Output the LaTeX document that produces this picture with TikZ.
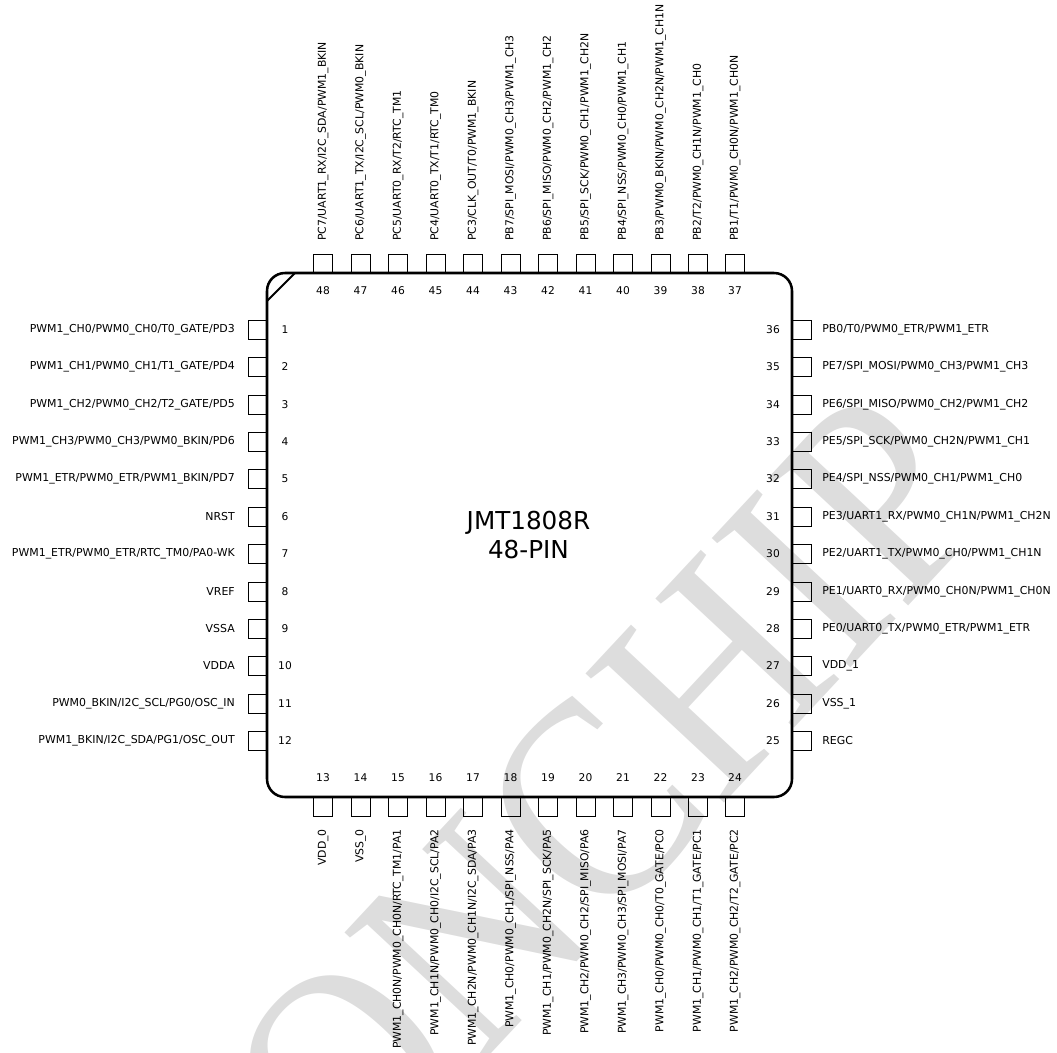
\documentclass[tikz,border=0pt]{standalone}
\usepackage{fontspec}
\setmainfont{DejaVu Sans}
\newfontfamily\markfont{Liberation Serif}
\definecolor{markgray}{RGB}{221,221,221}
\tikzset{
	pinbox/.style={draw, line width=0.75pt, minimum size=14.25pt, inner sep=0pt},
	pinnum/.style={inner sep=0pt, font=\fontsize{8}{10}\selectfont},
	leftlab/.style={inner sep=0pt, anchor=east, font=\fontsize{8.2}{10}\selectfont},
	rightlab/.style={inner sep=0pt, anchor=west, font=\fontsize{8.2}{10}\selectfont},
	toplab/.style={inner sep=0pt, anchor=west, rotate=90, font=\fontsize{8.15}{10}\selectfont},
	botlab/.style={inner sep=0pt, anchor=east, rotate=90, font=\fontsize{8.15}{10}\selectfont},
	chipbox/.style={draw, line width=1.9pt, rounded corners=13.5pt, minimum width=393.75pt, minimum height=393pt, inner sep=0pt},
}
\begin{document}
\begin{tikzpicture}[x=0.75pt, y=-0.75pt]
	\useasboundingbox (0,0) rectangle (1057,1053);
	\clip (0,0) rectangle (1057,1053);
	\node[text=markgray, rotate=47, xscale=0.88, inner sep=0pt, font=\markfont\fontsize{217}{217}\selectfont] (mark) at (607,791) {ONCHIP};

	\node[pinbox] (pin1) at (257.5,329.5) {}; \node[pinnum] (num1) at (285,329.5) {1}; \node[leftlab] (lab1) at (235,329.5) {PWM1\_CH0/PWM0\_CH0/T0\_GATE/PD3};
	\node[pinbox] (pin2) at (257.5,367) {}; \node[pinnum] (num2) at (285,367) {2}; \node[leftlab] (lab2) at (235,367) {PWM1\_CH1/PWM0\_CH1/T1\_GATE/PD4};
	\node[pinbox] (pin3) at (257.5,404.5) {}; \node[pinnum] (num3) at (285,404.5) {3}; \node[leftlab] (lab3) at (235,404.5) {PWM1\_CH2/PWM0\_CH2/T2\_GATE/PD5};
	\node[pinbox] (pin4) at (257.5,442) {}; \node[pinnum] (num4) at (285,442) {4}; \node[leftlab] (lab4) at (235,442) {PWM1\_CH3/PWM0\_CH3/PWM0\_BKIN/PD6};
	\node[pinbox] (pin5) at (257.5,479) {}; \node[pinnum] (num5) at (285,479) {5}; \node[leftlab] (lab5) at (235,479) {PWM1\_ETR/PWM0\_ETR/PWM1\_BKIN/PD7};
	\node[pinbox] (pin6) at (257.5,516.5) {}; \node[pinnum] (num6) at (285,516.5) {6}; \node[leftlab] (lab6) at (235,516.5) {NRST};
	\node[pinbox] (pin7) at (257.5,554) {}; \node[pinnum] (num7) at (285,554) {7}; \node[leftlab] (lab7) at (235,554) {PWM1\_ETR/PWM0\_ETR/RTC\_TM0/PA0-WK};
	\node[pinbox] (pin8) at (257.5,591.5) {}; \node[pinnum] (num8) at (285,591.5) {8}; \node[leftlab] (lab8) at (235,591.5) {VREF};
	\node[pinbox] (pin9) at (257.5,629) {}; \node[pinnum] (num9) at (285,629) {9}; \node[leftlab] (lab9) at (235,629) {VSSA};
	\node[pinbox] (pin10) at (257.5,666) {}; \node[pinnum] (num10) at (285,666) {10}; \node[leftlab] (lab10) at (235,666) {VDDA};
	\node[pinbox] (pin11) at (257.5,703.5) {}; \node[pinnum] (num11) at (285,703.5) {11}; \node[leftlab] (lab11) at (235,703.5) {PWM0\_BKIN/I2C\_SCL/PG0/OSC\_IN};
	\node[pinbox] (pin12) at (257.5,741) {}; \node[pinnum] (num12) at (285,741) {12}; \node[leftlab] (lab12) at (235,741) {PWM1\_BKIN/I2C\_SDA/PG1/OSC\_OUT};

	\node[pinbox] (pin13) at (323,806.5) {}; \node[pinnum] (num13) at (323,778) {13}; \node[botlab] (lab13) at (323,829) {VDD\_0};
	\node[pinbox] (pin14) at (360.5,806.5) {}; \node[pinnum] (num14) at (360.5,778) {14}; \node[botlab] (lab14) at (360.5,829) {VSS\_0};
	\node[pinbox] (pin15) at (398,806.5) {}; \node[pinnum] (num15) at (398,778) {15}; \node[botlab] (lab15) at (398,829) {PWM1\_CH0N/PWM0\_CH0N/RTC\_TM1/PA1};
	\node[pinbox] (pin16) at (435.5,806.5) {}; \node[pinnum] (num16) at (435.5,778) {16}; \node[botlab] (lab16) at (435.5,829) {PWM1\_CH1N/PWM0\_CH0/I2C\_SCL/PA2};
	\node[pinbox] (pin17) at (473,806.5) {}; \node[pinnum] (num17) at (473,778) {17}; \node[botlab] (lab17) at (473,829) {PWM1\_CH2N/PWM0\_CH1N/I2C\_SDA/PA3};
	\node[pinbox] (pin18) at (510.5,806.5) {}; \node[pinnum] (num18) at (510.5,778) {18}; \node[botlab] (lab18) at (510.5,829) {PWM1\_CH0/PWM0\_CH1/SPI\_NSS/PA4};
	\node[pinbox] (pin19) at (548,806.5) {}; \node[pinnum] (num19) at (548,778) {19}; \node[botlab] (lab19) at (548,829) {PWM1\_CH1/PWM0\_CH2N/SPI\_SCK/PA5};
	\node[pinbox] (pin20) at (585.5,806.5) {}; \node[pinnum] (num20) at (585.5,778) {20}; \node[botlab] (lab20) at (585.5,829) {PWM1\_CH2/PWM0\_CH2/SPI\_MISO/PA6};
	\node[pinbox] (pin21) at (623,806.5) {}; \node[pinnum] (num21) at (623,778) {21}; \node[botlab] (lab21) at (623,829) {PWM1\_CH3/PWM0\_CH3/SPI\_MOSI/PA7};
	\node[pinbox] (pin22) at (660.5,806.5) {}; \node[pinnum] (num22) at (660.5,778) {22}; \node[botlab] (lab22) at (660.5,829) {PWM1\_CH0/PWM0\_CH0/T0\_GATE/PC0};
	\node[pinbox] (pin23) at (698,806.5) {}; \node[pinnum] (num23) at (698,778) {23}; \node[botlab] (lab23) at (698,829) {PWM1\_CH1/PWM0\_CH1/T1\_GATE/PC1};
	\node[pinbox] (pin24) at (735,806.5) {}; \node[pinnum] (num24) at (735,778) {24}; \node[botlab] (lab24) at (735,829) {PWM1\_CH2/PWM0\_CH2/T2\_GATE/PC2};

	\node[pinbox] (pin25) at (801.5,741) {}; \node[pinnum] (num25) at (773,741) {25}; \node[rightlab] (lab25) at (822,741) {REGC};
	\node[pinbox] (pin26) at (801.5,703.5) {}; \node[pinnum] (num26) at (773,703.5) {26}; \node[rightlab] (lab26) at (822,703.5) {VSS\_1};
	\node[pinbox] (pin27) at (801.5,666) {}; \node[pinnum] (num27) at (773,666) {27}; \node[rightlab] (lab27) at (822,666) {VDD\_1};
	\node[pinbox] (pin28) at (801.5,629) {}; \node[pinnum] (num28) at (773,629) {28}; \node[rightlab] (lab28) at (822,629) {PE0/UART0\_TX/PWM0\_ETR/PWM1\_ETR};
	\node[pinbox] (pin29) at (801.5,591.5) {}; \node[pinnum] (num29) at (773,591.5) {29}; \node[rightlab] (lab29) at (822,591.5) {PE1/UART0\_RX/PWM0\_CH0N/PWM1\_CH0N};
	\node[pinbox] (pin30) at (801.5,554) {}; \node[pinnum] (num30) at (773,554) {30}; \node[rightlab] (lab30) at (822,554) {PE2/UART1\_TX/PWM0\_CH0/PWM1\_CH1N};
	\node[pinbox] (pin31) at (801.5,516.5) {}; \node[pinnum] (num31) at (773,516.5) {31}; \node[rightlab] (lab31) at (822,516.5) {PE3/UART1\_RX/PWM0\_CH1N/PWM1\_CH2N};
	\node[pinbox] (pin32) at (801.5,479) {}; \node[pinnum] (num32) at (773,479) {32}; \node[rightlab] (lab32) at (822,479) {PE4/SPI\_NSS/PWM0\_CH1/PWM1\_CH0};
	\node[pinbox] (pin33) at (801.5,442) {}; \node[pinnum] (num33) at (773,442) {33}; \node[rightlab] (lab33) at (822,442) {PE5/SPI\_SCK/PWM0\_CH2N/PWM1\_CH1};
	\node[pinbox] (pin34) at (801.5,404.5) {}; \node[pinnum] (num34) at (773,404.5) {34}; \node[rightlab] (lab34) at (822,404.5) {PE6/SPI\_MISO/PWM0\_CH2/PWM1\_CH2};
	\node[pinbox] (pin35) at (801.5,367) {}; \node[pinnum] (num35) at (773,367) {35}; \node[rightlab] (lab35) at (822,367) {PE7/SPI\_MOSI/PWM0\_CH3/PWM1\_CH3};
	\node[pinbox] (pin36) at (801.5,329.5) {}; \node[pinnum] (num36) at (773,329.5) {36}; \node[rightlab] (lab36) at (822,329.5) {PB0/T0/PWM0\_ETR/PWM1\_ETR};

	\node[pinbox] (pin37) at (735,263.5) {}; \node[pinnum] (num37) at (735,291) {37}; \node[toplab] (lab37) at (735,241) {PB1/T1/PWM0\_CH0N/PWM1\_CH0N};
	\node[pinbox] (pin38) at (698,263.5) {}; \node[pinnum] (num38) at (698,291) {38}; \node[toplab] (lab38) at (698,241) {PB2/T2/PWM0\_CH1N/PWM1\_CH0};
	\node[pinbox] (pin39) at (660.5,263.5) {}; \node[pinnum] (num39) at (660.5,291) {39}; \node[toplab] (lab39) at (660.5,241) {PB3/PWM0\_BKIN/PWM0\_CH2N/PWM1\_CH1N};
	\node[pinbox] (pin40) at (623,263.5) {}; \node[pinnum] (num40) at (623,291) {40}; \node[toplab] (lab40) at (623,241) {PB4/SPI\_NSS/PWM0\_CH0/PWM1\_CH1};
	\node[pinbox] (pin41) at (585.5,263.5) {}; \node[pinnum] (num41) at (585.5,291) {41}; \node[toplab] (lab41) at (585.5,241) {PB5/SPI\_SCK/PWM0\_CH1/PWM1\_CH2N};
	\node[pinbox] (pin42) at (548,263.5) {}; \node[pinnum] (num42) at (548,291) {42}; \node[toplab] (lab42) at (548,241) {PB6/SPI\_MISO/PWM0\_CH2/PWM1\_CH2};
	\node[pinbox] (pin43) at (510.5,263.5) {}; \node[pinnum] (num43) at (510.5,291) {43}; \node[toplab] (lab43) at (510.5,241) {PB7/SPI\_MOSI/PWM0\_CH3/PWM1\_CH3};
	\node[pinbox] (pin44) at (473,263.5) {}; \node[pinnum] (num44) at (473,291) {44}; \node[toplab] (lab44) at (473,241) {PC3/CLK\_OUT/T0/PWM1\_BKIN};
	\node[pinbox] (pin45) at (435.5,263.5) {}; \node[pinnum] (num45) at (435.5,291) {45}; \node[toplab] (lab45) at (435.5,241) {PC4/UART0\_TX/T1/RTC\_TM0};
	\node[pinbox] (pin46) at (398,263.5) {}; \node[pinnum] (num46) at (398,291) {46}; \node[toplab] (lab46) at (398,241) {PC5/UART0\_RX/T2/RTC\_TM1};
	\node[pinbox] (pin47) at (360.5,263.5) {}; \node[pinnum] (num47) at (360.5,291) {47}; \node[toplab] (lab47) at (360.5,241) {PC6/UART1\_TX/I2C\_SCL/PWM0\_BKIN};
	\node[pinbox] (pin48) at (323,263.5) {}; \node[pinnum] (num48) at (323,291) {48}; \node[toplab] (lab48) at (323,241) {PC7/UART1\_RX/I2C\_SDA/PWM1\_BKIN};

	\node[chipbox] (chip) at (529.5,535) {};
	\node[align=center, inner sep=0pt, font=\fontsize{18.5}{22}\selectfont] (title) at (528.5,535) {JMT1808R\\48-PIN};
	\coordinate (notchA) at (267,301);
	\coordinate (notchB) at (295,273);
	\draw[line width=1.5pt] (notchA) -- (notchB);
\end{tikzpicture}
\end{document}
